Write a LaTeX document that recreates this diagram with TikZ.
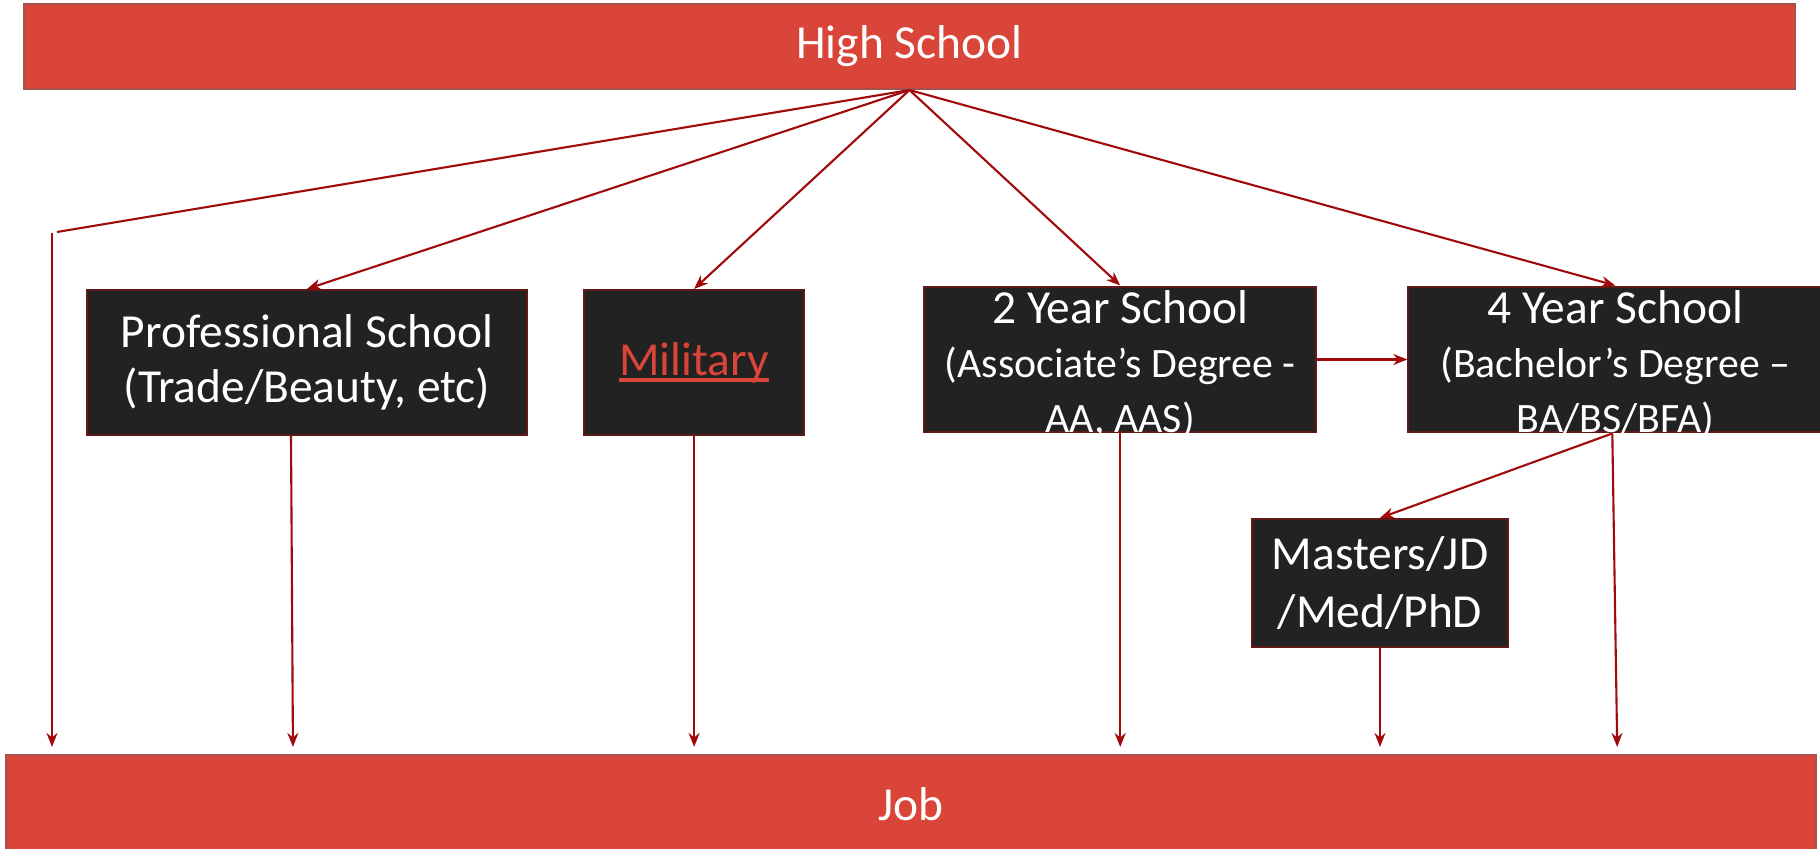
\documentclass[tikz,border=0pt]{standalone}
\usepackage{fontspec}
\setmainfont{Carlito}
\usetikzlibrary{positioning,arrows.meta}
\definecolor{barred}{RGB}{218,69,57}
\definecolor{barline}{RGB}{165,82,78}
\definecolor{boxfill}{RGB}{34,34,34}
\definecolor{boxline}{RGB}{95,25,22}
\definecolor{linkred}{RGB}{160,10,10}
\newcommand\subline{\fontsize{11.9}{14}\selectfont}
\newcommand\milline[1]{\setbox0=\hbox{#1}\rlap{\color{barred}\rule[-2pt]{\wd0}{1.1pt}}\box0}
\tikzset{
  red bar/.style={
    fill=barred,
    draw=barline,
    line width=0.6pt,
    text=white,
    font=\fontsize{13.5}{15}\selectfont,
    minimum height=0.85cm,
  },
  dark box/.style={
    fill=boxfill,
    draw=boxline,
    line width=0.6pt,
    text=white,
    align=center,
    inner sep=0pt,
    minimum width={#1cm},
    minimum height=1.45cm,
    font=\fontsize{13.5}{15.5}\selectfont,
  },
  link/.style={
    draw=linkred,
    line width=0.6pt,
    -{Stealth[length=1.4mm,width=1.1mm]},
  }
}

\begin{document}
\begin{tikzpicture}
        \useasboundingbox (0,0) rectangle (18.2,8.49);

        \node [red bar, minimum width=17.71cm] (hs) at (9.095,8.025) {High School};
        \node [red bar, minimum width=18.10cm, minimum height=0.98cm] (job) at (9.11,0.45) {Job};

        \node [dark box=4.40] (prof) at (3.07,4.865) {Professional School\\(Trade/Beauty, etc)};
        \node [dark box=2.20, right=0.55cm of prof] (mil) {\milline{\color{barred}Military}};
        \node [dark box=3.92, right=1.18cm of mil, yshift=0.3mm] (two) {\rule{0pt}{10.5pt}2 Year School\\\subline (Associate’s Degree -\\\subline\smash{AA, AAS)}};
        \node [dark box=4.14, right=0.90cm of two] (four) {\rule{0pt}{10.5pt}4 Year School\\\subline (Bachelor’s Degree –\\\subline\smash{BA/BS/BFA)}};
        \node [dark box=2.56, minimum height=1.28cm, font=\fontsize{13.5}{16.5}\selectfont] (mas) at (13.80,2.66) {Masters/JD\\/Med/PhD};

        \coordinate (turn) at (0.57,6.17);
        \coordinate (drop) at (0.52,6.16);

        \draw [draw=linkred, line width=0.6pt] (hs.south) -- (turn);
        \draw [link] (hs.south) -- (prof.north);
        \draw [link] (hs.south) -- (mil.north);
        \draw [link] (hs.south) -- (two.north);
        \draw [link] (hs.south) -- (four.north);
        \draw [link] (two.east) -- (four.west);
        \draw [link] ([xshift=-0.3mm]four.south) -- (mas.north);

        \draw [link, shorten >=0.7mm] (drop) -- (drop |- job.north);
        \draw [link, shorten >=0.7mm] ([xshift=-1.6mm]prof.south) -- ([xshift=-1.4mm]prof.south |- job.north);
        \draw [link, shorten >=0.7mm] (mil.south) -- (mil.south |- job.north);
        \draw [link, shorten >=0.7mm] (two.south) -- (two.south |- job.north);
        \draw [link, shorten >=0.7mm] (mas.south) -- (mas.south |- job.north);
        \draw [link, shorten >=0.7mm] ([xshift=-0.3mm]four.south) -- ([xshift=0.2mm]four.south |- job.north);
      \end{tikzpicture}
\end{document}
